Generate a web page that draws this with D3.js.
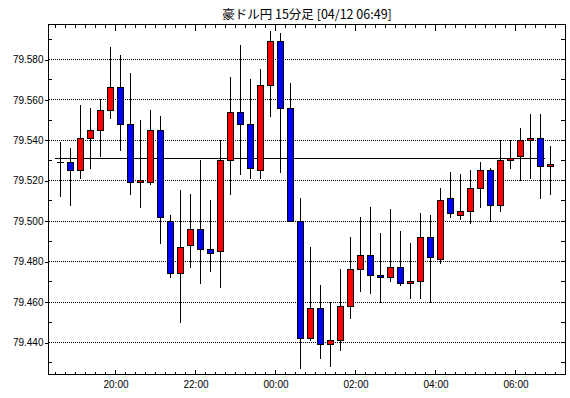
<!DOCTYPE html>
<html><head><meta charset="utf-8">
<script src="https://cdn.jsdelivr.net/npm/d3@7/dist/d3.min.js"></script>
<style>body{margin:0;background:#fff}svg{display:block}</style>
</head><body><svg id="c" width="570" height="398"></svg>
<script>
const title = "豪ドル円 15分足 [04/12 06:49]";
const times = ["18:30","18:45","19:00","19:15","19:30","19:45","20:00","20:15","20:30","20:45",
  "21:00","21:15","21:30","21:45","22:00","22:15","22:30","22:45","23:00","23:15",
  "23:30","23:45","00:00","00:15","00:30","00:45","01:00","01:15","01:30","01:45",
  "02:00","02:15","02:30","02:45","03:00","03:15","03:30","03:45","04:00","04:15",
  "04:30","04:45","05:00","05:15","05:30","05:45","06:00","06:15","06:30","06:45"];
const open = [79.529,79.529,79.525,79.541,79.545,79.555,79.566,79.548,79.519,79.519,
  79.545,79.500,79.474,79.488,79.496,79.486,79.485,79.530,79.554,79.548,
  79.525,79.567,79.589,79.556,79.500,79.442,79.457,79.439,79.441,79.458,
  79.476,79.483,79.473,79.472,79.477,79.469,79.470,79.492,79.481,79.511,
  79.503,79.505,79.516,79.525,79.508,79.530,79.532,79.540,79.541,79.527];
const high = [79.539,79.536,79.557,79.556,79.560,79.586,79.582,79.573,79.550,79.555,
  79.552,79.503,79.515,79.513,79.530,79.510,79.540,79.571,79.587,79.570,
  79.575,79.594,79.593,79.568,79.511,79.487,79.468,79.460,79.476,79.492,
  79.502,79.507,79.494,79.506,79.495,79.489,79.504,79.503,79.516,79.524,
  79.523,79.525,79.529,79.526,79.540,79.540,79.546,79.553,79.553,79.537];
const low = [79.512,79.508,79.521,79.526,79.532,79.551,79.535,79.513,79.507,79.518,
  79.489,79.472,79.450,79.477,79.469,79.475,79.467,79.513,79.523,79.521,
  79.521,79.552,79.524,79.500,79.427,79.441,79.432,79.428,79.436,79.452,
  79.465,79.464,79.460,79.470,79.468,79.462,79.462,79.460,79.479,79.502,
  79.501,79.499,79.507,79.500,79.505,79.526,79.520,79.521,79.511,79.513];
const close = [79.529,79.525,79.541,79.545,79.555,79.566,79.548,79.519,79.520,79.545,
  79.502,79.474,79.487,79.496,79.486,79.484,79.530,79.554,79.548,79.526,
  79.567,79.589,79.556,79.500,79.442,79.457,79.439,79.441,79.458,79.476,
  79.483,79.473,79.472,79.477,79.469,79.470,79.492,79.482,79.510,79.504,
  79.505,79.516,79.525,79.508,79.530,79.531,79.540,79.541,79.527,79.528];
const refLine = 79.531;
const yTickValues = [79.44,79.46,79.48,79.50,79.52,79.54,79.56,79.58];
const yMinorValues = [79.43,79.45,79.47,79.49,79.51,79.53,79.55,79.57,79.59];
const xTickLabels = ["20:00","22:00","00:00","02:00","04:00","06:00"];

const UP = "#ff0000", DOWN = "#0000ff";
const parse = s => { const [h,m] = s.split(":").map(Number); return new Date(Date.UTC(2013,3, h>=12?11:12, h, m)); };
const data = times.map((t,i)=>({t:parse(t), o:open[i], h:high[i], l:low[i], c:close[i]}));
const min = 60000;

const L = 49, R = 565, T = 24.5, B = 374.5;
const x = d3.scaleUtc().domain([parse("18:21"), parse("07:15")]).range([L, R]);
const y = d3.scaleLinear().domain([79.44, 79.58]).range([342, 59]);
const svg = d3.select("#c");
const crisp = v => Math.round(v) + 0.5;

// title
svg.append("text").attr("x", (L+R)/2).attr("y", 19).attr("text-anchor","middle")
  .attr("font-family","'Noto Sans CJK JP','Liberation Sans',sans-serif").attr("font-size",12.5)
  .attr("fill","#000").text(title);

// gridlines
svg.append("g").selectAll("line").data(yTickValues).join("line")
  .attr("x1", L).attr("x2", R).attr("y1", d=>crisp(y(d))).attr("y2", d=>crisp(y(d)))
  .attr("stroke","#000").attr("stroke-dasharray","1,1").attr("shape-rendering","crispEdges");

// y axis labels (left) via d3 axis
const yAxis = d3.axisLeft(y).tickValues(yTickValues).tickFormat(d3.format(".3f")).tickSize(4).tickPadding(1);
const gy = svg.append("g").attr("transform", `translate(${L-0.5},0.5)`).call(yAxis);
gy.select(".domain").remove();
gy.selectAll("line").attr("shape-rendering","crispEdges");
gy.selectAll("text").attr("font-family","'Liberation Sans',Arial,sans-serif").attr("font-size",10).attr("fill","#000");

// minor y ticks: left inward, right inward
const yInRange = d => y(d) > T && y(d) < B;
svg.append("g").selectAll("line").data(yMinorValues.filter(yInRange)).join("line")
  .attr("x1", L).attr("x2", L+3).attr("y1", d=>crisp(y(d))).attr("y2", d=>crisp(y(d)))
  .attr("stroke","#000").attr("shape-rendering","crispEdges");
svg.append("g").selectAll("line").data(yMinorValues.concat(yTickValues).filter(yInRange)).join("line")
  .attr("x1", R-4).attr("x2", R).attr("y1", d=>crisp(y(d))).attr("y2", d=>crisp(y(d)))
  .attr("stroke","#000").attr("shape-rendering","crispEdges");

// x ticks (top & bottom, inward)
const minorT = d3.utcMinute.every(15).range(parse("18:30"), new Date(parse("07:00").getTime()+1));
const isMajor = d => d.getUTCMinutes()===0 && d.getUTCHours()%2===0;
const xt = svg.append("g");
xt.selectAll("line.b").data(minorT).join("line").attr("class","b")
  .attr("x1", d=>crisp(x(d))).attr("x2", d=>crisp(x(d)))
  .attr("y1", B).attr("y2", d=>B-(isMajor(d)?5:3)).attr("stroke","#000").attr("shape-rendering","crispEdges");
xt.selectAll("line.t").data(minorT).join("line").attr("class","t")
  .attr("x1", d=>crisp(x(d))).attr("x2", d=>crisp(x(d)))
  .attr("y1", T).attr("y2", d=>T+(isMajor(d)?6:3)).attr("stroke","#000").attr("shape-rendering","crispEdges");

const majorT = minorT.filter(isMajor);
const xAxis = d3.axisBottom(x).tickValues(majorT).tickFormat((d,i)=>xTickLabels[i]).tickSize(0).tickPadding(6);
const gx = svg.append("g").attr("transform", `translate(0.5,${B})`).call(xAxis);
gx.select(".domain").remove();
gx.selectAll("text").attr("font-family","'Liberation Sans',Arial,sans-serif").attr("font-size",10).attr("fill","#000");

// reference line
svg.append("line").attr("x1", Math.round(x(data[0].t))).attr("x2", Math.round(x(data[data.length-1].t)))
  .attr("y1", crisp(y(refLine))).attr("y2", crisp(y(refLine))).attr("stroke","#000").attr("shape-rendering","crispEdges");

// candles
const g = svg.append("g");
const cx = d => Math.round(x(new Date(d.t.getTime()+7.5*min)));
g.selectAll("line.w").data(data).join("line").attr("class","w")
  .attr("x1", d=>cx(d)+0.5).attr("x2", d=>cx(d)+0.5)
  .attr("y1", d=>Math.round(y(d.h))).attr("y2", d=>Math.round(y(d.l))+1)
  .attr("stroke","#000");
const bodies = data.filter(d=>Math.abs(Math.round(y(d.o))-Math.round(y(d.c)))>=1);
g.selectAll("rect").data(bodies).join("rect")
  .attr("x", d=>cx(d)-2.5).attr("width", 6)
  .attr("y", d=>Math.round(y(Math.max(d.o,d.c)))+0.5)
  .attr("height", d=>Math.round(y(Math.min(d.o,d.c)))-Math.round(y(Math.max(d.o,d.c))))
  .attr("fill", d=>d.c>d.o?UP:DOWN).attr("stroke","#000");
const dojis = data.filter(d=>Math.abs(Math.round(y(d.o))-Math.round(y(d.c)))<1);
g.selectAll("line.d").data(dojis).join("line").attr("class","d")
  .attr("x1", d=>cx(d)-3).attr("x2", d=>cx(d)+4)
  .attr("y1", d=>crisp(y(d.o))).attr("y2", d=>crisp(y(d.o))).attr("stroke","#000");

// frame
svg.append("rect").attr("x", L-0.5).attr("y", T).attr("width", R-L+1).attr("height", B-T)
  .attr("fill","none").attr("stroke","#000");
</script></body></html>
